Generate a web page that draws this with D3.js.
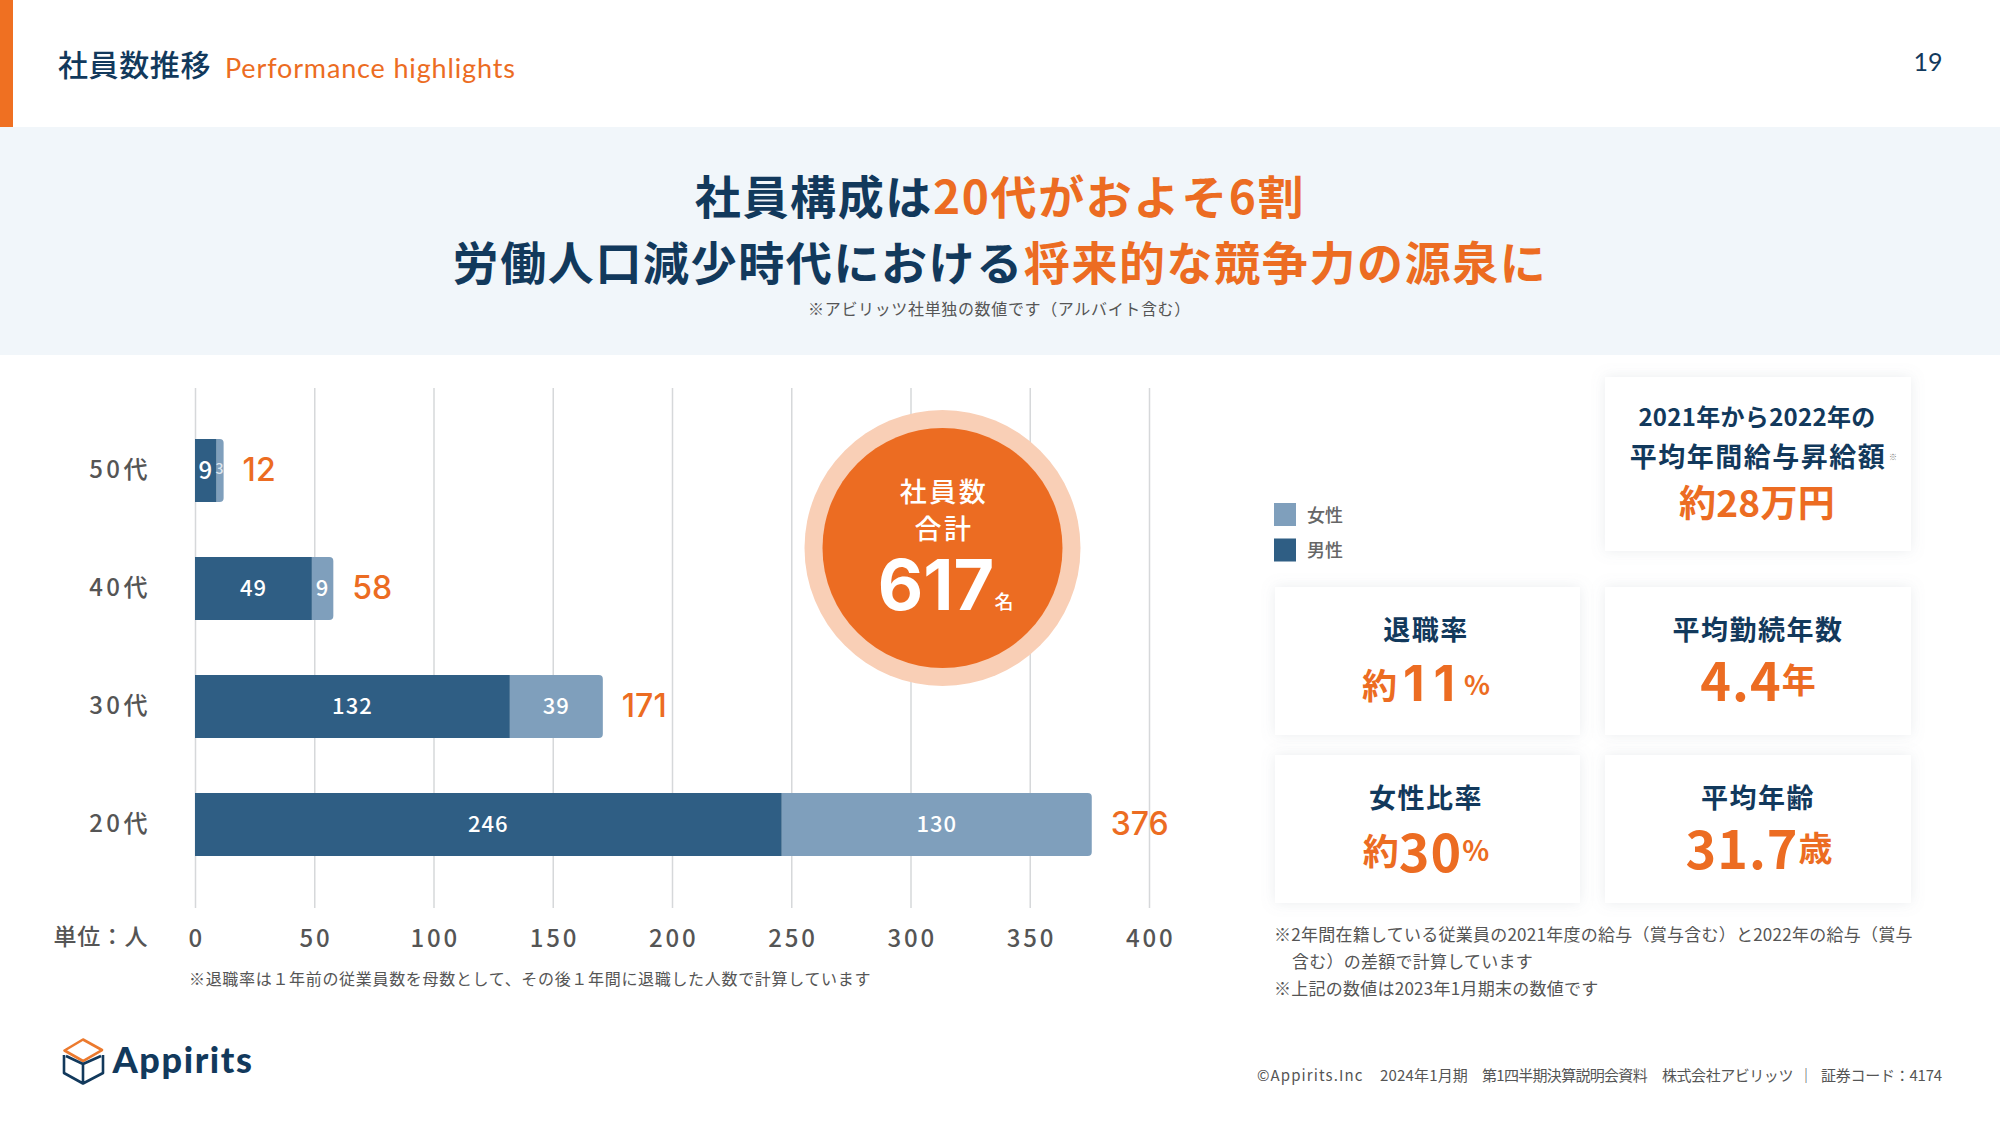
<!DOCTYPE html>
<html lang="ja"><head><meta charset="utf-8">
<script src="https://cdn.jsdelivr.net/npm/d3@7"></script>
<style>html,body{margin:0;padding:0;background:#fff}svg{display:block}text{font-family:"Noto Sans CJK JP","Noto Sans",sans-serif}</style>
</head><body><div id="c"></div>
<script>
const ageGroups = ["50代","40代","30代","20代"];
const maleValues = [9,49,132,246];
const femaleValues = [3,9,39,130];
const totalValues = [12,58,171,376];
const xTicks = [0,50,100,150,200,250,300,350,400];
const legendItems = [["女性","#7F9FBC"],["男性","#2F5E84"]];
const NAVY="#12395C", ORANGE="#EC6C22", GREY="#555555", MALE="#2F5E84", FEMALE="#7F9FBC";
const CJK='"Noto Sans CJK JP"';

const svg=d3.select("#c").append("svg").attr("width",2000).attr("height",1125).attr("viewBox","0 0 2000 1125");
const defs=svg.append("defs");
const f=defs.append("filter").attr("id","sh").attr("x","-10%").attr("y","-10%").attr("width","120%").attr("height","120%");
f.append("feDropShadow").attr("dx",0).attr("dy",0).attr("stdDeviation",7).attr("flood-color","#8a97a5").attr("flood-opacity",0.18);

function text(x,y,parts,o={}){
  const base=o.base||"central";
  const el=svg.append("text").attr("x",x).attr("y",base==="central"?y-3:y).attr("text-anchor",o.anchor||"middle").attr("dominant-baseline",base);
  (Array.isArray(parts)?parts:[[parts,{}]]).forEach(([s,p])=>{
    const q=Object.assign({},o,p);
    const ts=el.append("tspan").text(s).attr("font-size",q.size).attr("fill",q.fill||NAVY).attr("font-weight",q.weight||500);
    if(q.ls!=null) ts.attr("letter-spacing",q.ls);
    if(q.family) ts.style("font-family",q.family);
  });
  return el;
}

// header
svg.append("rect").attr("x",0).attr("y",0).attr("width",13).attr("height",127).attr("fill","#EF7022");
svg.append("rect").attr("x",0).attr("y",127).attr("width",2000).attr("height",228).attr("fill","#F1F6FA");
text(58,66,"社員数推移",{anchor:"start",size:30,weight:500,fill:NAVY,ls:0.6});
text(225,70,"Performance highlights",{anchor:"start",size:27,weight:400,fill:ORANGE,family:"Lato",ls:0.85});
text(1928,64,"19",{size:25,weight:400,fill:NAVY,family:"Lato"});
text(1000,197,[["社員構成は",{}],["20代がおよそ6割",{fill:ORANGE}]],{size:46,weight:700,ls:1.65});
text(1000,263,[["労働人口減少時代における",{}],["将来的な競争力の源泉に",{fill:ORANGE}]],{size:46,weight:700,ls:1.6});
text(999.5,311,"※アビリッツ社単独の数値です（アルバイト含む）",{size:16,weight:400,fill:"#555",ls:0.65});

// chart
const x=d3.scaleLinear().domain([0,400]).range([195,1149]);
const y=d3.scaleBand().domain(ageGroups).range([411.5,883.5]).paddingInner(55/118).paddingOuter(27.5/118);
const gridTop=388, gridBottom=908;

const xAxis=svg.append("g").attr("transform",`translate(0,${gridBottom})`)
  .call(d3.axisBottom(x).tickValues(xTicks).tickSize(-(gridBottom-gridTop)).tickPadding(22).tickFormat(d3.format("d")));
xAxis.select(".domain").remove();
xAxis.selectAll("line").attr("stroke","#D6D8DA").attr("stroke-width",1.5);
xAxis.selectAll("text").attr("font-size",24).attr("font-weight",500).attr("fill",GREY).attr("letter-spacing",2.8)
  .attr("dx",1.2).style("font-family",CJK);

const yAxis=svg.append("g").attr("transform","translate(195,0)")
  .call(d3.axisLeft(y).tickSize(0).tickPadding(44));
yAxis.select(".domain").remove();
yAxis.selectAll("text").attr("font-size",24).attr("font-weight",500).attr("fill",GREY).attr("letter-spacing",3.5).attr("dy","0.31em").style("font-family",CJK);

text(148,938,"単位：人",{anchor:"end",size:23,weight:500,fill:GREY,ls:0.6});

const rows=ageGroups.map((g,i)=>({g,m:maleValues[i],w:femaleValues[i],t:totalValues[i]}));
const bh=y.bandwidth();
const fPath=d=>{
  const a=x(d.m),b=x(d.t),t=y(d.g),r=4;
  return `M${a},${t}H${b-r}Q${b},${t} ${b},${t+r}V${t+bh-r}Q${b},${t+bh} ${b-r},${t+bh}H${a}Z`;
};
svg.append("g").selectAll("path").data(rows).join("path").attr("d",fPath).attr("fill",FEMALE);
svg.append("g").selectAll("rect").data(rows).join("rect")
  .attr("x",x(0)).attr("y",d=>y(d.g)).attr("width",d=>x(d.m)-x(0)).attr("height",bh).attr("fill",MALE);

rows.forEach(d=>{
  const cy=y(d.g)+bh/2;
  text((x(0)+x(d.m))/2,cy,String(d.m),{size:d.m<10&&d.t<20?24:22,weight:500,fill:"#fff",ls:1});
  text((x(d.m)+x(d.t))/2,cy,String(d.w),{size:d.w<5?14:22,weight:500,fill:d.w<5?"#DCE6EF":"#fff",ls:1});
  text(x(d.t)+19,cy+1.5,String(d.t),{anchor:"start",size:32,weight:500,fill:ORANGE,family:"Inter"});
});

text(189,981,"※退職率は１年前の従業員数を母数として、その後１年間に退職した人数で計算しています",{anchor:"start",size:16,weight:400,fill:GREY,ls:0.68});

// total circle
svg.append("circle").attr("cx",942.5).attr("cy",548).attr("r",138).attr("fill","#F9CFB6");
svg.append("circle").attr("cx",942.5).attr("cy",548).attr("r",120).attr("fill",ORANGE);
text(944,493,"社員数",{size:27,weight:500,fill:"#fff",ls:2.5});
text(944,530,"合計",{size:27,weight:500,fill:"#fff",ls:2.5});
text(936,610,"617",{size:70,weight:700,fill:"#fff",base:"auto",family:"Inter"});
text(1004,603,"名",{size:19,weight:500,fill:"#fff"});

// legend
legendItems.forEach(([name,col],i)=>{
  const cy=514.5+35.5*i;
  svg.append("rect").attr("x",1274).attr("y",cy-11.5).attr("width",22).attr("height",23).attr("fill",col);
  text(1307,cy+2,name,{anchor:"start",size:18,weight:500,fill:"#666"});
});

// cards
const cards=[[1605,377,306,174],[1275,587,305,148],[1605,587,306,148],[1275,755,305,148],[1605,755,306,148]];
svg.append("g").selectAll("rect").data(cards).join("rect")
  .attr("x",d=>d[0]).attr("y",d=>d[1]).attr("width",d=>d[2]).attr("height",d=>d[3]).attr("fill","#fff").attr("filter","url(#sh)");

text(1757,418,"2021年から2022年の",{size:24,weight:700,ls:0.3});
text(1758,458,"平均年間給与昇給額",{size:27,weight:700,ls:1.5});
text(1893,459,"※",{size:8,weight:400,fill:"#777"});
text(1757,504,"約28万円",{size:37,weight:700,fill:ORANGE,ls:0.3});

text(1426,631,"退職率",{size:27,weight:700,ls:1.5});
text(1426,685.5,[["約",{size:35,ls:6}],["11",{size:50,ls:9,family:"Inter"}],["%",{size:27}]],{weight:700,fill:ORANGE});
text(1758,631,"平均勤続年数",{size:27,weight:700,ls:1.5});
text(1758,681,[["4.4",{size:52,ls:1}],["年",{size:34}]],{weight:700,fill:ORANGE});
text(1426,799,"女性比率",{size:27,weight:700,ls:1.5});
text(1426,852,[["約",{size:36}],["30",{size:52,ls:1}],["%",{size:28}]],{weight:700,fill:ORANGE});
text(1758,799,"平均年齢",{size:27,weight:700,ls:1.5});
text(1759,849,[["31.7",{size:52,ls:1}],["歳",{size:34}]],{weight:700,fill:ORANGE});

// notes
text(1274,936,"※2年間在籍している従業員の2021年度の給与（賞与含む）と2022年の給与（賞与",{anchor:"start",size:17,weight:400,fill:GREY,ls:0.25});
text(1292,963,"含む）の差額で計算しています",{anchor:"start",size:17,weight:400,fill:GREY,ls:0.25});
text(1274,990,"※上記の数値は2023年1月期末の数値です",{anchor:"start",size:17,weight:400,fill:GREY,ls:0.25});

// footer
const FOOT={anchor:"start",size:15,weight:400,fill:GREY};
text(1257,1077,"©Appirits.Inc",{...FOOT,ls:1.1});
text(1380,1077,"2024年1月期",{...FOOT,ls:0.17});
text(1482,1077,"第1四半期決算説明会資料",{...FOOT,ls:-0.7});
text(1662,1077,"株式会社アビリッツ",{...FOOT,ls:-0.45});
text(1806,1077,"｜",{...FOOT,anchor:"middle"});
text(1821,1077,"証券コード：4174",{...FOOT,ls:-0.25});

// logo
const logo=svg.append("g").attr("fill","none").attr("stroke-width",2.6).attr("stroke-linejoin","round");
logo.append("path").attr("d","M83,1039.5L102,1050L83,1061L64.5,1050.5Z").attr("stroke","#EC7A2E");
logo.append("path").attr("d","M64,1055V1073L83,1083.5L103,1073V1055M83,1064V1083.5M66,1056L83,1064L101,1056").attr("stroke",NAVY);
text(112.5,1073,"Appirits",{anchor:"start",base:"auto",size:36,weight:900,fill:NAVY,family:"Lato",ls:1.6});
</script></body></html>
